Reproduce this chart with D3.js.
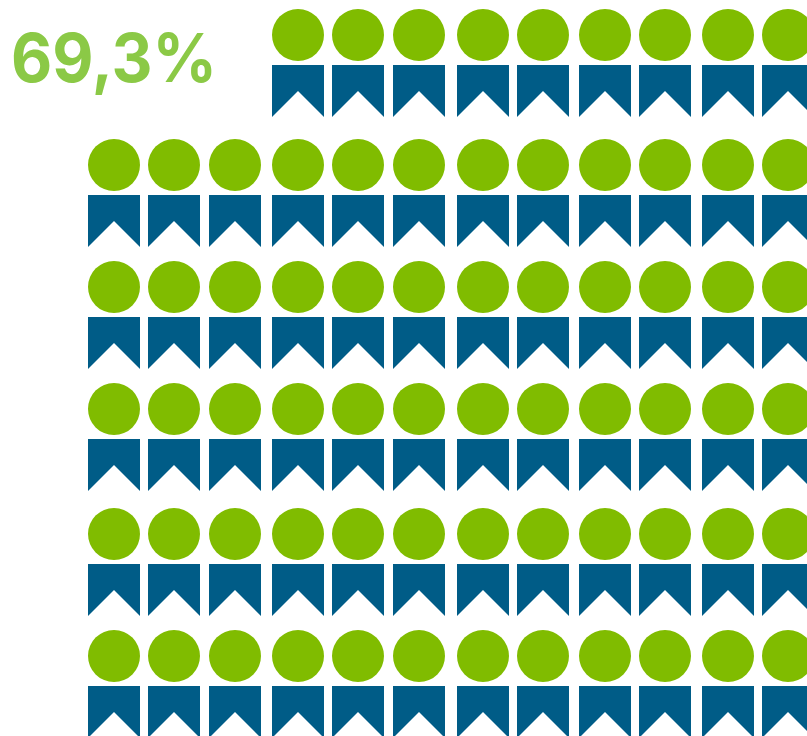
<!DOCTYPE html>
<html>
<head>
<meta charset="utf-8">
<script src="https://cdn.jsdelivr.net/npm/d3@7"></script>
<style>
  html, body { margin: 0; padding: 0; background: #fff; overflow: hidden; }
  svg { display: block; }
  .share { font-family: Inter, "Open Sans", sans-serif; font-weight: 700; font-size: 68px; fill: #8bc946; }
</style>
</head>
<body>
<div id="chart"></div>
<script>
const shareLabel = "69,3%";
// icons per row, the top row is cut short by the label
const rowIds = [0, 1, 2, 3, 4, 5];
const iconsPerRow = [9, 12, 12, 12, 12, 12];
const columnCount = 12;

const width = 807;
const height = 736;
const iconSize = 52;

const svg = d3.select("#chart")
  .append("svg")
  .attr("width", width)
  .attr("height", height);

// the columns and rows are not evenly spaced in the picture
const x = d3.scaleOrdinal()
  .domain(d3.range(columnCount))
  .range([88, 148, 209, 272, 332, 393, 457, 517, 579, 639, 702, 762]);
const y = d3.scaleOrdinal()
  .domain(rowIds)
  .range([9, 139, 261, 383, 508, 630]);

function ribbonPath(size) {
  const p = d3.path();
  p.moveTo(0, 0);
  p.lineTo(size, 0);
  p.lineTo(size, size);
  p.lineTo(size / 2, size / 2);
  p.lineTo(0, size);
  p.closePath();
  return p.toString();
}

// the rows run off the right edge of the picture, so the last column is cut
const icons = rowIds.flatMap(row =>
  d3.range(columnCount - iconsPerRow[row], columnCount).map(col => ({ row, col })));

const icon = svg.append("g")
  .selectAll(".icon")
  .data(icons)
  .enter()
  .append("g")
    .attr("class", "icon")
    .attr("transform", d => `translate(${x(d.col)},${y(d.row)})`);

icon.append("circle")
  .attr("cx", iconSize / 2)
  .attr("cy", iconSize / 2)
  .attr("r", iconSize / 2)
  .attr("fill", "#80bc00");

icon.append("path")
  .attr("transform", "translate(0,56)")
  .attr("d", ribbonPath(iconSize))
  .attr("fill", "#005c87");

svg.append("text")
  .attr("class", "share")
  .attr("x", 11)
  .attr("y", 82)
  .attr("textLength", 206)
  .attr("lengthAdjust", "spacingAndGlyphs")
  .text(shareLabel);
</script>
</body>
</html>
